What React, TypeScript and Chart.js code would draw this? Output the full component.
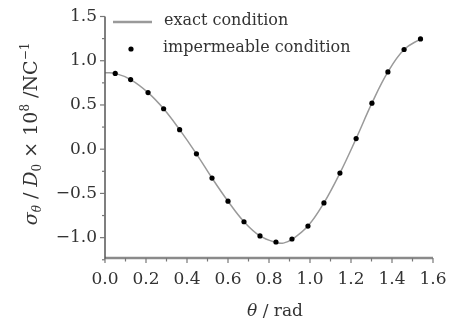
import React, { useEffect, useRef } from "react";
import { Chart, registerables } from "chart.js";

Chart.register(...registerables);

// exact condition curve (theta in rad, sigma value)
const curveX = [0, 0.05, 0.125, 0.21, 0.286, 0.364, 0.446, 0.522, 0.6, 0.678, 0.756, 0.834, 0.87, 0.912, 0.99, 1.068, 1.146, 1.225, 1.302, 1.38, 1.459, 1.539];
const curveY = [0.865, 0.857, 0.787, 0.64, 0.457, 0.221, -0.052, -0.326, -0.588, -0.82, -0.981, -1.055, -1.062, -1.02, -0.869, -0.607, -0.27, 0.12, 0.52, 0.873, 1.127, 1.247];
// impermeable condition points
const dotX = [0.05, 0.125, 0.21, 0.286, 0.364, 0.446, 0.522, 0.6, 0.678, 0.756, 0.834, 0.912, 0.99, 1.068, 1.146, 1.225, 1.302, 1.38, 1.459, 1.539];
const dotY = [0.857, 0.787, 0.64, 0.457, 0.221, -0.052, -0.326, -0.588, -0.82, -0.981, -1.049, -1.015, -0.869, -0.607, -0.27, 0.12, 0.52, 0.873, 1.127, 1.247];

const xTicks = [0, 0.2, 0.4, 0.6, 0.8, 1.0, 1.2, 1.4, 1.6];
const xTickLabels = ["0.0", "0.2", "0.4", "0.6", "0.8", "1.0", "1.2", "1.4", "1.6"];
const xMinorTicks = [0.1, 0.3, 0.5, 0.7, 0.9, 1.1, 1.3, 1.5];
const yTicks = [-1.0, -0.5, 0.0, 0.5, 1.0, 1.5];
const yTickLabels = ["\u22121.0", "\u22120.5", "0.0", "0.5", "1.0", "1.5"];
const yMinorTicks = [-1.25, -0.75, -0.25, 0.25, 0.75, 1.25];
const legendLabels = ["exact condition", "impermeable condition"];

const SERIF = "'DejaVu Serif', serif";

const axesPlugin = {
  id: "customAxes",
  afterDraw(chart: any) {
    const ctx = chart.ctx as CanvasRenderingContext2D;
    const xs = chart.scales.x;
    const ys = chart.scales.y;
    const area = chart.chartArea;
    ctx.save();
    // x axis line
    ctx.strokeStyle = "#8a8a8a";
    ctx.lineWidth = 2.5;
    ctx.beginPath();
    ctx.moveTo(area.left, area.bottom);
    ctx.lineTo(area.right, area.bottom);
    ctx.stroke();
    // y axis line
    ctx.strokeStyle = "#555";
    ctx.lineWidth = 1.5;
    ctx.beginPath();
    ctx.moveTo(area.left, area.top);
    ctx.lineTo(area.left, area.bottom + 1);
    ctx.stroke();
    // x ticks
    ctx.strokeStyle = "#777";
    ctx.lineWidth = 1.2;
    xTicks.forEach((v) => {
      const px = xs.getPixelForValue(v);
      ctx.beginPath();
      ctx.moveTo(px, area.bottom);
      ctx.lineTo(px, area.bottom + 5);
      ctx.stroke();
    });
    xMinorTicks.forEach((v) => {
      const px = xs.getPixelForValue(v);
      ctx.beginPath();
      ctx.moveTo(px, area.bottom);
      ctx.lineTo(px, area.bottom + 3.5);
      ctx.stroke();
    });
    // y ticks
    yTicks.forEach((v) => {
      const py = ys.getPixelForValue(v);
      ctx.beginPath();
      ctx.moveTo(area.left, py);
      ctx.lineTo(area.left - 5, py);
      ctx.stroke();
    });
    yMinorTicks.forEach((v) => {
      const py = ys.getPixelForValue(v);
      ctx.beginPath();
      ctx.moveTo(area.left, py);
      ctx.lineTo(area.left - 3, py);
      ctx.stroke();
    });
    // tick labels
    ctx.fillStyle = "#333";
    ctx.font = `17px ${SERIF}`;
    ctx.textAlign = "center";
    ctx.textBaseline = "middle";
    xTicks.forEach((v, i) => {
      ctx.fillText(xTickLabels[i], xs.getPixelForValue(v), area.bottom + 22);
    });
    ctx.textAlign = "right";
    yTicks.forEach((v, i) => {
      ctx.fillText(yTickLabels[i], area.left - 8, ys.getPixelForValue(v));
    });
    // x title: θ/rad
    ctx.textAlign = "left";
    ctx.textBaseline = "alphabetic";
    const xParts: [string, string][] = [
      ["\u03b8", `italic 17px ${SERIF}`],
      [" / ", `17px ${SERIF}`],
      ["rad", `17px ${SERIF}`],
    ];
    let tw = 0;
    xParts.forEach(([t, f]) => { ctx.font = f; tw += ctx.measureText(t).width; });
    let cx = 275 - tw / 2;
    xParts.forEach(([t, f]) => {
      ctx.font = f;
      ctx.fillText(t, cx, 316);
      cx += ctx.measureText(t).width;
    });
    // y title
    const yParts: [string, string, number][] = [
      ["\u03c3", `italic 19px ${SERIF}`, 0],
      ["\u03b8", `italic 12px ${SERIF}`, 4],
      [" / ", `19px ${SERIF}`, 0],
      ["D", `italic 19px ${SERIF}`, 0],
      ["0", `12px ${SERIF}`, 4],
      [" \u00d7 10", `19px ${SERIF}`, 0],
      ["8", `12px ${SERIF}`, -8],
      [" /NC", `19px ${SERIF}`, 0],
      ["\u22121", `12px ${SERIF}`, -8],
    ];
    let yw = 0;
    yParts.forEach(([t, f]) => { ctx.font = f; yw += ctx.measureText(t).width; });
    ctx.translate(37, 134);
    ctx.rotate(-Math.PI / 2);
    let ty = -yw / 2;
    yParts.forEach(([t, f, off]) => {
      ctx.font = f;
      ctx.fillText(t, ty, off);
      ty += ctx.measureText(t).width;
    });
    ctx.setTransform(1, 0, 0, 1, 0, 0);
    // legend
    ctx.strokeStyle = "#9a9a9a";
    ctx.lineWidth = 2.5;
    ctx.beginPath();
    ctx.moveTo(113, 22);
    ctx.lineTo(152, 22);
    ctx.stroke();
    ctx.fillStyle = "#000";
    ctx.beginPath();
    ctx.arc(131, 49, 2.6, 0, Math.PI * 2);
    ctx.fill();
    ctx.fillStyle = "#333";
    ctx.font = `16px ${SERIF}`;
    ctx.textAlign = "left";
    ctx.textBaseline = "middle";
    ctx.fillText(legendLabels[0], 164, 21);
    ctx.fillText(legendLabels[1], 163, 48);
    ctx.restore();
  },
};

export default function App() {
  const ref = useRef<HTMLCanvasElement>(null);
  useEffect(() => {
    document.body.style.margin = "0";
    const chart = new Chart(ref.current!, {
      type: "scatter",
      data: {
        datasets: [
          {
            label: legendLabels[1],
            data: dotX.map((x, i) => ({ x, y: dotY[i] })),
            showLine: false,
            pointRadius: 2.6,
            pointBackgroundColor: "#000",
            pointBorderWidth: 0,
            borderColor: "#000",
          },
          {
            label: legendLabels[0],
            data: curveX.map((x, i) => ({ x, y: curveY[i] })),
            showLine: true,
            pointRadius: 0,
            borderColor: "#9a9a9a",
            borderWidth: 1.5,
            tension: 0.4,
          },
        ],
      },
      options: {
        animation: false,
        responsive: true,
        maintainAspectRatio: false,
        layout: { padding: { left: 105, right: 17, top: 16.5, bottom: 63 } },
        plugins: { legend: { display: false }, tooltip: { enabled: false } },
        scales: {
          x: { type: "linear", min: 0, max: 1.6, display: false },
          y: { type: "linear", min: -1.23, max: 1.5, display: false },
        },
      },
      plugins: [axesPlugin],
    });
    return () => chart.destroy();
  }, []);
  return (
    <div style={{ width: 450, height: 321, position: "relative" }}>
      <canvas ref={ref} />
    </div>
  );
}
